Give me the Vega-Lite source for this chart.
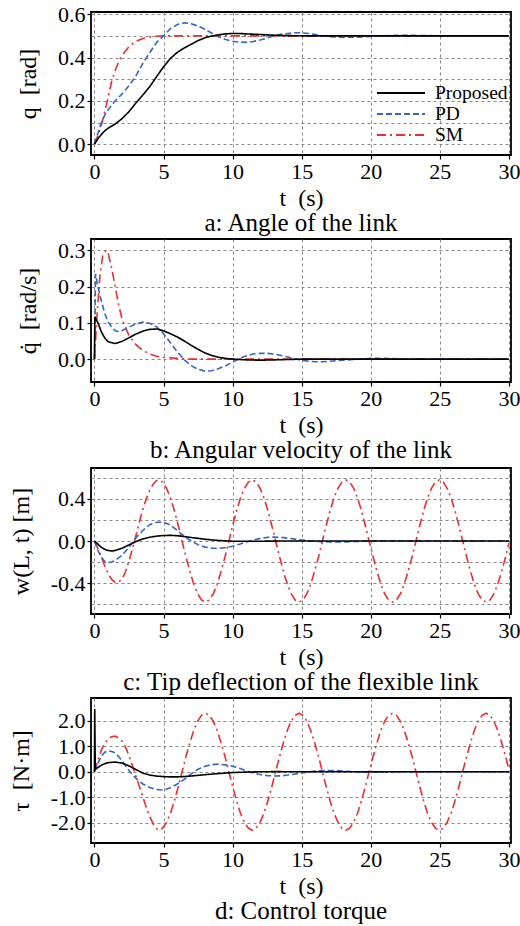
{
"$schema":"https://vega.github.io/schema/vega-lite/v6.json",
"padding":{"left":8,"top":2,"right":2,"bottom":2},
"spacing":1,
"datasets":{
"a":[
{"t":0,"s":"SM","v":0},{"t":0.25,"s":"SM","v":0.04},{"t":0.5,"s":"SM","v":0.09},{"t":0.75,"s":"SM","v":0.15},{"t":1,"s":"SM","v":0.22},{"t":1.25,"s":"SM","v":0.29},{"t":1.5,"s":"SM","v":0.34},{"t":1.75,"s":"SM","v":0.38},{"t":2,"s":"SM","v":0.41},{"t":2.5,"s":"SM","v":0.45},{"t":3,"s":"SM","v":0.475},{"t":3.5,"s":"SM","v":0.488},{"t":4,"s":"SM","v":0.495},{"t":4.5,"s":"SM","v":0.498},{"t":5,"s":"SM","v":0.5},{"t":10,"s":"SM","v":0.5},{"t":15,"s":"SM","v":0.5},{"t":20,"s":"SM","v":0.5},{"t":25,"s":"SM","v":0.5},{"t":30,"s":"SM","v":0.5},
{"t":0,"s":"PD","v":0},{"t":0.25,"s":"PD","v":0.05},{"t":0.5,"s":"PD","v":0.1},{"t":0.75,"s":"PD","v":0.135},{"t":1,"s":"PD","v":0.16},{"t":1.5,"s":"PD","v":0.2},{"t":2,"s":"PD","v":0.232},{"t":2.5,"s":"PD","v":0.27},{"t":3,"s":"PD","v":0.315},{"t":3.5,"s":"PD","v":0.373},{"t":4,"s":"PD","v":0.422},{"t":4.5,"s":"PD","v":0.47},{"t":5,"s":"PD","v":0.5},{"t":5.5,"s":"PD","v":0.533},{"t":6,"s":"PD","v":0.552},{"t":6.5,"s":"PD","v":0.56},{"t":7,"s":"PD","v":0.556},{"t":7.5,"s":"PD","v":0.545},{"t":8,"s":"PD","v":0.53},{"t":8.5,"s":"PD","v":0.512},{"t":9,"s":"PD","v":0.495},{"t":9.5,"s":"PD","v":0.483},{"t":10,"s":"PD","v":0.475},{"t":10.5,"s":"PD","v":0.471},{"t":11,"s":"PD","v":0.47},{"t":11.5,"s":"PD","v":0.474},{"t":12,"s":"PD","v":0.481},{"t":12.5,"s":"PD","v":0.49},{"t":13,"s":"PD","v":0.5},{"t":13.5,"s":"PD","v":0.507},{"t":14,"s":"PD","v":0.511},{"t":14.5,"s":"PD","v":0.514},{"t":15,"s":"PD","v":0.514},{"t":15.5,"s":"PD","v":0.511},{"t":16,"s":"PD","v":0.506},{"t":16.5,"s":"PD","v":0.5},{"t":17,"s":"PD","v":0.496},{"t":18,"s":"PD","v":0.493},{"t":19,"s":"PD","v":0.494},{"t":20,"s":"PD","v":0.497},{"t":21,"s":"PD","v":0.5},{"t":22,"s":"PD","v":0.502},{"t":23,"s":"PD","v":0.502},{"t":24,"s":"PD","v":0.501},{"t":25,"s":"PD","v":0.5},{"t":26,"s":"PD","v":0.499},{"t":27,"s":"PD","v":0.499},{"t":28,"s":"PD","v":0.5},{"t":30,"s":"PD","v":0.5},
{"t":0,"s":"Proposed","v":0},{"t":0.25,"s":"Proposed","v":0.025},{"t":0.5,"s":"Proposed","v":0.045},{"t":0.75,"s":"Proposed","v":0.062},{"t":1,"s":"Proposed","v":0.074},{"t":1.5,"s":"Proposed","v":0.093},{"t":2,"s":"Proposed","v":0.118},{"t":2.5,"s":"Proposed","v":0.15},{"t":3,"s":"Proposed","v":0.19},{"t":3.5,"s":"Proposed","v":0.227},{"t":4,"s":"Proposed","v":0.265},{"t":4.5,"s":"Proposed","v":0.312},{"t":5,"s":"Proposed","v":0.357},{"t":5.5,"s":"Proposed","v":0.396},{"t":6,"s":"Proposed","v":0.424},{"t":6.5,"s":"Proposed","v":0.444},{"t":7,"s":"Proposed","v":0.461},{"t":7.5,"s":"Proposed","v":0.478},{"t":8,"s":"Proposed","v":0.491},{"t":8.5,"s":"Proposed","v":0.499},{"t":9,"s":"Proposed","v":0.505},{"t":9.5,"s":"Proposed","v":0.509},{"t":10,"s":"Proposed","v":0.511},{"t":10.5,"s":"Proposed","v":0.511},{"t":11,"s":"Proposed","v":0.509},{"t":12,"s":"Proposed","v":0.506},{"t":13,"s":"Proposed","v":0.503},{"t":14,"s":"Proposed","v":0.501},{"t":15,"s":"Proposed","v":0.5},{"t":20,"s":"Proposed","v":0.5},{"t":25,"s":"Proposed","v":0.5},{"t":30,"s":"Proposed","v":0.5}
],
"b":[
{"t":0,"s":"SM","v":0},{"t":0.2,"s":"SM","v":0.13},{"t":0.4,"s":"SM","v":0.23},{"t":0.6,"s":"SM","v":0.285},{"t":0.85,"s":"SM","v":0.3},{"t":1,"s":"SM","v":0.29},{"t":1.25,"s":"SM","v":0.25},{"t":1.5,"s":"SM","v":0.2},{"t":1.75,"s":"SM","v":0.15},{"t":2,"s":"SM","v":0.11},{"t":2.5,"s":"SM","v":0.065},{"t":3,"s":"SM","v":0.04},{"t":3.5,"s":"SM","v":0.024},{"t":4,"s":"SM","v":0.014},{"t":4.5,"s":"SM","v":0.008},{"t":5,"s":"SM","v":0.005},{"t":6,"s":"SM","v":0.002},{"t":7,"s":"SM","v":0},{"t":30,"s":"SM","v":0},
{"t":0,"s":"PD","v":0},{"t":0.08,"s":"PD","v":0.235},{"t":0.25,"s":"PD","v":0.2},{"t":0.5,"s":"PD","v":0.16},{"t":0.75,"s":"PD","v":0.125},{"t":1,"s":"PD","v":0.102},{"t":1.25,"s":"PD","v":0.088},{"t":1.5,"s":"PD","v":0.078},{"t":1.75,"s":"PD","v":0.076},{"t":2,"s":"PD","v":0.079},{"t":2.5,"s":"PD","v":0.088},{"t":3,"s":"PD","v":0.097},{"t":3.5,"s":"PD","v":0.102},{"t":4,"s":"PD","v":0.099},{"t":4.5,"s":"PD","v":0.089},{"t":5,"s":"PD","v":0.07},{"t":5.5,"s":"PD","v":0.045},{"t":6,"s":"PD","v":0.02},{"t":6.5,"s":"PD","v":-0.002},{"t":7,"s":"PD","v":-0.018},{"t":7.5,"s":"PD","v":-0.028},{"t":8,"s":"PD","v":-0.033},{"t":8.5,"s":"PD","v":-0.032},{"t":9,"s":"PD","v":-0.026},{"t":9.5,"s":"PD","v":-0.018},{"t":10,"s":"PD","v":-0.008},{"t":10.5,"s":"PD","v":0.002},{"t":11,"s":"PD","v":0.009},{"t":11.5,"s":"PD","v":0.014},{"t":12,"s":"PD","v":0.016},{"t":12.5,"s":"PD","v":0.016},{"t":13,"s":"PD","v":0.014},{"t":13.5,"s":"PD","v":0.01},{"t":14,"s":"PD","v":0.006},{"t":14.5,"s":"PD","v":0.001},{"t":15,"s":"PD","v":-0.003},{"t":15.5,"s":"PD","v":-0.006},{"t":16,"s":"PD","v":-0.007},{"t":16.5,"s":"PD","v":-0.007},{"t":17,"s":"PD","v":-0.006},{"t":18,"s":"PD","v":-0.003},{"t":19,"s":"PD","v":0},{"t":20,"s":"PD","v":0.002},{"t":21,"s":"PD","v":0.002},{"t":22,"s":"PD","v":0.001},{"t":23,"s":"PD","v":0},{"t":30,"s":"PD","v":0},
{"t":0,"s":"Proposed","v":0},{"t":0.03,"s":"Proposed","v":0.117},{"t":0.25,"s":"Proposed","v":0.1},{"t":0.5,"s":"Proposed","v":0.075},{"t":0.75,"s":"Proposed","v":0.058},{"t":1,"s":"Proposed","v":0.048},{"t":1.5,"s":"Proposed","v":0.043},{"t":2,"s":"Proposed","v":0.049},{"t":2.5,"s":"Proposed","v":0.059},{"t":3,"s":"Proposed","v":0.069},{"t":3.5,"s":"Proposed","v":0.077},{"t":4,"s":"Proposed","v":0.082},{"t":4.5,"s":"Proposed","v":0.083},{"t":5,"s":"Proposed","v":0.078},{"t":5.5,"s":"Proposed","v":0.07},{"t":6,"s":"Proposed","v":0.061},{"t":6.5,"s":"Proposed","v":0.05},{"t":7,"s":"Proposed","v":0.038},{"t":7.5,"s":"Proposed","v":0.027},{"t":8,"s":"Proposed","v":0.017},{"t":8.5,"s":"Proposed","v":0.01},{"t":9,"s":"Proposed","v":0.005},{"t":9.5,"s":"Proposed","v":0.002},{"t":10,"s":"Proposed","v":0},{"t":11,"s":"Proposed","v":-0.002},{"t":12,"s":"Proposed","v":-0.003},{"t":13,"s":"Proposed","v":-0.002},{"t":14,"s":"Proposed","v":-0.001},{"t":15,"s":"Proposed","v":0},{"t":30,"s":"Proposed","v":0}
],
"c":[
{"t":0,"s":"SM","v":0},{"t":0.25,"s":"SM","v":-0.07},{"t":0.5,"s":"SM","v":-0.15},{"t":0.75,"s":"SM","v":-0.24},{"t":1,"s":"SM","v":-0.31},{"t":1.25,"s":"SM","v":-0.365},{"t":1.5,"s":"SM","v":-0.393},{"t":1.75,"s":"SM","v":-0.39},{"t":2,"s":"SM","v":-0.36},{"t":2.25,"s":"SM","v":-0.29},{"t":2.5,"s":"SM","v":-0.19},{"t":2.75,"s":"SM","v":-0.075},{"t":3,"s":"SM","v":0.05},{"t":3.25,"s":"SM","v":0.18},{"t":3.5,"s":"SM","v":0.3},{"t":3.75,"s":"SM","v":0.4},{"t":4,"s":"SM","v":0.48},{"t":4.25,"s":"SM","v":0.54},{"t":4.5,"s":"SM","v":0.575},
{"t":4.65,"s":"SM","v":0.58},{"t":4.93,"s":"SM","v":0.56},{"t":5.21,"s":"SM","v":0.502},{"t":5.5,"s":"SM","v":0.41},{"t":5.78,"s":"SM","v":0.29},{"t":6.06,"s":"SM","v":0.15},{"t":6.34,"s":"SM","v":0},{"t":6.62,"s":"SM","v":-0.15},{"t":6.91,"s":"SM","v":-0.29},{"t":7.19,"s":"SM","v":-0.41},{"t":7.47,"s":"SM","v":-0.502},{"t":7.75,"s":"SM","v":-0.56},{"t":8.04,"s":"SM","v":-0.58},{"t":8.32,"s":"SM","v":-0.56},{"t":8.6,"s":"SM","v":-0.502},{"t":8.88,"s":"SM","v":-0.41},{"t":9.16,"s":"SM","v":-0.29},{"t":9.45,"s":"SM","v":-0.15},{"t":9.73,"s":"SM","v":0},{"t":10.01,"s":"SM","v":0.15},{"t":10.29,"s":"SM","v":0.29},{"t":10.57,"s":"SM","v":0.41},{"t":10.86,"s":"SM","v":0.502},{"t":11.14,"s":"SM","v":0.56},{"t":11.42,"s":"SM","v":0.58},{"t":11.7,"s":"SM","v":0.56},{"t":11.98,"s":"SM","v":0.502},{"t":12.27,"s":"SM","v":0.41},{"t":12.55,"s":"SM","v":0.29},{"t":12.83,"s":"SM","v":0.15},{"t":13.11,"s":"SM","v":0},{"t":13.4,"s":"SM","v":-0.15},{"t":13.68,"s":"SM","v":-0.29},{"t":13.96,"s":"SM","v":-0.41},{"t":14.24,"s":"SM","v":-0.502},{"t":14.52,"s":"SM","v":-0.56},{"t":14.81,"s":"SM","v":-0.58},{"t":15.09,"s":"SM","v":-0.56},{"t":15.37,"s":"SM","v":-0.502},{"t":15.65,"s":"SM","v":-0.41},{"t":15.93,"s":"SM","v":-0.29},{"t":16.22,"s":"SM","v":-0.15},{"t":16.5,"s":"SM","v":0},{"t":16.78,"s":"SM","v":0.15},{"t":17.06,"s":"SM","v":0.29},{"t":17.34,"s":"SM","v":0.41},{"t":17.63,"s":"SM","v":0.502},{"t":17.91,"s":"SM","v":0.56},{"t":18.19,"s":"SM","v":0.58},{"t":18.47,"s":"SM","v":0.56},{"t":18.76,"s":"SM","v":0.502},{"t":19.04,"s":"SM","v":0.41},{"t":19.32,"s":"SM","v":0.29},{"t":19.6,"s":"SM","v":0.15},{"t":19.88,"s":"SM","v":0},{"t":20.17,"s":"SM","v":-0.15},{"t":20.45,"s":"SM","v":-0.29},{"t":20.73,"s":"SM","v":-0.41},{"t":21.01,"s":"SM","v":-0.502},{"t":21.29,"s":"SM","v":-0.56},{"t":21.58,"s":"SM","v":-0.58},{"t":21.86,"s":"SM","v":-0.56},{"t":22.14,"s":"SM","v":-0.502},{"t":22.42,"s":"SM","v":-0.41},{"t":22.7,"s":"SM","v":-0.29},{"t":22.99,"s":"SM","v":-0.15},{"t":23.27,"s":"SM","v":0},{"t":23.55,"s":"SM","v":0.15},{"t":23.83,"s":"SM","v":0.29},{"t":24.11,"s":"SM","v":0.41},{"t":24.4,"s":"SM","v":0.502},{"t":24.68,"s":"SM","v":0.56},{"t":24.96,"s":"SM","v":0.58},{"t":25.24,"s":"SM","v":0.56},{"t":25.52,"s":"SM","v":0.502},{"t":25.81,"s":"SM","v":0.41},{"t":26.09,"s":"SM","v":0.29},{"t":26.37,"s":"SM","v":0.15},{"t":26.65,"s":"SM","v":0},{"t":26.94,"s":"SM","v":-0.15},{"t":27.22,"s":"SM","v":-0.29},{"t":27.5,"s":"SM","v":-0.41},{"t":27.78,"s":"SM","v":-0.502},{"t":28.06,"s":"SM","v":-0.56},{"t":28.35,"s":"SM","v":-0.58},{"t":28.63,"s":"SM","v":-0.56},{"t":28.91,"s":"SM","v":-0.502},{"t":29.19,"s":"SM","v":-0.41},{"t":29.47,"s":"SM","v":-0.29},{"t":29.76,"s":"SM","v":-0.15},{"t":30,"s":"SM","v":-0.02},
{"t":0,"s":"PD","v":0},{"t":0.25,"s":"PD","v":-0.09},{"t":0.5,"s":"PD","v":-0.155},{"t":0.75,"s":"PD","v":-0.195},{"t":1,"s":"PD","v":-0.205},{"t":1.25,"s":"PD","v":-0.2},{"t":1.5,"s":"PD","v":-0.185},{"t":2,"s":"PD","v":-0.135},{"t":2.5,"s":"PD","v":-0.06},{"t":3,"s":"PD","v":0.03},{"t":3.5,"s":"PD","v":0.1},{"t":4,"s":"PD","v":0.155},{"t":4.5,"s":"PD","v":0.178},{"t":5,"s":"PD","v":0.178},{"t":5.5,"s":"PD","v":0.152},{"t":6,"s":"PD","v":0.1},{"t":6.5,"s":"PD","v":0.045},{"t":7,"s":"PD","v":0},{"t":7.5,"s":"PD","v":-0.035},{"t":8,"s":"PD","v":-0.058},{"t":8.5,"s":"PD","v":-0.068},{"t":9,"s":"PD","v":-0.07},{"t":9.5,"s":"PD","v":-0.063},{"t":10,"s":"PD","v":-0.05},{"t":10.5,"s":"PD","v":-0.03},{"t":11,"s":"PD","v":-0.01},{"t":11.5,"s":"PD","v":0.01},{"t":12,"s":"PD","v":0.025},{"t":12.5,"s":"PD","v":0.034},{"t":13,"s":"PD","v":0.038},{"t":13.5,"s":"PD","v":0.035},{"t":14,"s":"PD","v":0.027},{"t":14.5,"s":"PD","v":0.018},{"t":15,"s":"PD","v":0.01},{"t":15.5,"s":"PD","v":0.003},{"t":16,"s":"PD","v":-0.003},{"t":16.5,"s":"PD","v":-0.007},{"t":17,"s":"PD","v":-0.009},{"t":17.5,"s":"PD","v":-0.01},{"t":18,"s":"PD","v":-0.009},{"t":19,"s":"PD","v":-0.004},{"t":20,"s":"PD","v":0},{"t":21,"s":"PD","v":0.003},{"t":22,"s":"PD","v":0.003},{"t":23,"s":"PD","v":0.001},{"t":24,"s":"PD","v":0},{"t":30,"s":"PD","v":0},
{"t":0,"s":"Proposed","v":0},{"t":0.25,"s":"Proposed","v":-0.03},{"t":0.5,"s":"Proposed","v":-0.06},{"t":0.75,"s":"Proposed","v":-0.08},{"t":1,"s":"Proposed","v":-0.09},{"t":1.25,"s":"Proposed","v":-0.094},{"t":1.5,"s":"Proposed","v":-0.09},{"t":2,"s":"Proposed","v":-0.068},{"t":2.5,"s":"Proposed","v":-0.037},{"t":3,"s":"Proposed","v":-0.005},{"t":3.5,"s":"Proposed","v":0.02},{"t":4,"s":"Proposed","v":0.036},{"t":4.5,"s":"Proposed","v":0.046},{"t":5,"s":"Proposed","v":0.052},{"t":5.5,"s":"Proposed","v":0.054},{"t":6,"s":"Proposed","v":0.05},{"t":6.5,"s":"Proposed","v":0.042},{"t":7,"s":"Proposed","v":0.033},{"t":7.5,"s":"Proposed","v":0.025},{"t":8,"s":"Proposed","v":0.017},{"t":8.5,"s":"Proposed","v":0.01},{"t":9,"s":"Proposed","v":0.005},{"t":9.5,"s":"Proposed","v":0.001},{"t":10,"s":"Proposed","v":-0.002},{"t":11,"s":"Proposed","v":-0.003},{"t":12,"s":"Proposed","v":-0.002},{"t":13,"s":"Proposed","v":-0.001},{"t":14,"s":"Proposed","v":0},{"t":30,"s":"Proposed","v":0}
],
"d":[
{"t":0,"s":"SM","v":0},{"t":0.25,"s":"SM","v":0.45},{"t":0.5,"s":"SM","v":0.85},{"t":0.75,"s":"SM","v":1.12},{"t":1,"s":"SM","v":1.3},{"t":1.25,"s":"SM","v":1.38},{"t":1.5,"s":"SM","v":1.4},{"t":1.75,"s":"SM","v":1.33},{"t":2,"s":"SM","v":1.2},{"t":2.25,"s":"SM","v":0.97},{"t":2.5,"s":"SM","v":0.63},{"t":2.75,"s":"SM","v":0.24},{"t":3,"s":"SM","v":-0.17},{"t":3.25,"s":"SM","v":-0.57},{"t":3.5,"s":"SM","v":-0.98},{"t":3.75,"s":"SM","v":-1.4},{"t":4,"s":"SM","v":-1.76},{"t":4.25,"s":"SM","v":-2.05},{"t":4.5,"s":"SM","v":-2.24},
{"t":4.65,"s":"SM","v":-2.3},{"t":4.93,"s":"SM","v":-2.22},{"t":5.21,"s":"SM","v":-1.99},{"t":5.5,"s":"SM","v":-1.63},{"t":5.78,"s":"SM","v":-1.15},{"t":6.06,"s":"SM","v":-0.6},{"t":6.34,"s":"SM","v":0},{"t":6.62,"s":"SM","v":0.6},{"t":6.91,"s":"SM","v":1.15},{"t":7.19,"s":"SM","v":1.63},{"t":7.47,"s":"SM","v":1.99},{"t":7.75,"s":"SM","v":2.22},{"t":8.04,"s":"SM","v":2.3},{"t":8.32,"s":"SM","v":2.22},{"t":8.6,"s":"SM","v":1.99},{"t":8.88,"s":"SM","v":1.63},{"t":9.16,"s":"SM","v":1.15},{"t":9.45,"s":"SM","v":0.6},{"t":9.73,"s":"SM","v":0},{"t":10.01,"s":"SM","v":-0.6},{"t":10.29,"s":"SM","v":-1.15},{"t":10.57,"s":"SM","v":-1.63},{"t":10.86,"s":"SM","v":-1.99},{"t":11.14,"s":"SM","v":-2.22},{"t":11.42,"s":"SM","v":-2.3},{"t":11.7,"s":"SM","v":-2.22},{"t":11.98,"s":"SM","v":-1.99},{"t":12.27,"s":"SM","v":-1.63},{"t":12.55,"s":"SM","v":-1.15},{"t":12.83,"s":"SM","v":-0.6},{"t":13.11,"s":"SM","v":0},{"t":13.4,"s":"SM","v":0.6},{"t":13.68,"s":"SM","v":1.15},{"t":13.96,"s":"SM","v":1.63},{"t":14.24,"s":"SM","v":1.99},{"t":14.52,"s":"SM","v":2.22},{"t":14.81,"s":"SM","v":2.3},{"t":15.09,"s":"SM","v":2.22},{"t":15.37,"s":"SM","v":1.99},{"t":15.65,"s":"SM","v":1.63},{"t":15.93,"s":"SM","v":1.15},{"t":16.22,"s":"SM","v":0.6},{"t":16.5,"s":"SM","v":0},{"t":16.78,"s":"SM","v":-0.6},{"t":17.06,"s":"SM","v":-1.15},{"t":17.34,"s":"SM","v":-1.63},{"t":17.63,"s":"SM","v":-1.99},{"t":17.91,"s":"SM","v":-2.22},{"t":18.19,"s":"SM","v":-2.3},{"t":18.47,"s":"SM","v":-2.22},{"t":18.76,"s":"SM","v":-1.99},{"t":19.04,"s":"SM","v":-1.63},{"t":19.32,"s":"SM","v":-1.15},{"t":19.6,"s":"SM","v":-0.6},{"t":19.88,"s":"SM","v":0},{"t":20.17,"s":"SM","v":0.6},{"t":20.45,"s":"SM","v":1.15},{"t":20.73,"s":"SM","v":1.63},{"t":21.01,"s":"SM","v":1.99},{"t":21.29,"s":"SM","v":2.22},{"t":21.58,"s":"SM","v":2.3},{"t":21.86,"s":"SM","v":2.22},{"t":22.14,"s":"SM","v":1.99},{"t":22.42,"s":"SM","v":1.63},{"t":22.7,"s":"SM","v":1.15},{"t":22.99,"s":"SM","v":0.6},{"t":23.27,"s":"SM","v":0},{"t":23.55,"s":"SM","v":-0.6},{"t":23.83,"s":"SM","v":-1.15},{"t":24.11,"s":"SM","v":-1.63},{"t":24.4,"s":"SM","v":-1.99},{"t":24.68,"s":"SM","v":-2.22},{"t":24.96,"s":"SM","v":-2.3},{"t":25.24,"s":"SM","v":-2.22},{"t":25.52,"s":"SM","v":-1.99},{"t":25.81,"s":"SM","v":-1.63},{"t":26.09,"s":"SM","v":-1.15},{"t":26.37,"s":"SM","v":-0.6},{"t":26.65,"s":"SM","v":0},{"t":26.94,"s":"SM","v":0.6},{"t":27.22,"s":"SM","v":1.15},{"t":27.5,"s":"SM","v":1.63},{"t":27.78,"s":"SM","v":1.99},{"t":28.06,"s":"SM","v":2.22},{"t":28.35,"s":"SM","v":2.3},{"t":28.63,"s":"SM","v":2.22},{"t":28.91,"s":"SM","v":1.99},{"t":29.19,"s":"SM","v":1.63},{"t":29.47,"s":"SM","v":1.15},{"t":29.76,"s":"SM","v":0.6},{"t":30,"s":"SM","v":0.08},
{"t":0,"s":"PD","v":0},{"t":0.1,"s":"PD","v":0.15},{"t":0.25,"s":"PD","v":0.33},{"t":0.5,"s":"PD","v":0.62},{"t":0.75,"s":"PD","v":0.77},{"t":1,"s":"PD","v":0.82},{"t":1.25,"s":"PD","v":0.8},{"t":1.5,"s":"PD","v":0.74},{"t":1.75,"s":"PD","v":0.6},{"t":2,"s":"PD","v":0.43},{"t":2.25,"s":"PD","v":0.24},{"t":2.5,"s":"PD","v":0.05},{"t":3,"s":"PD","v":-0.26},{"t":3.5,"s":"PD","v":-0.48},{"t":4,"s":"PD","v":-0.62},{"t":4.5,"s":"PD","v":-0.7},{"t":5,"s":"PD","v":-0.72},{"t":5.5,"s":"PD","v":-0.63},{"t":6,"s":"PD","v":-0.48},{"t":6.5,"s":"PD","v":-0.3},{"t":7,"s":"PD","v":-0.08},{"t":7.5,"s":"PD","v":0.1},{"t":8,"s":"PD","v":0.22},{"t":8.5,"s":"PD","v":0.28},{"t":9,"s":"PD","v":0.3},{"t":9.5,"s":"PD","v":0.27},{"t":10,"s":"PD","v":0.22},{"t":10.5,"s":"PD","v":0.14},{"t":11,"s":"PD","v":0.04},{"t":11.5,"s":"PD","v":-0.05},{"t":12,"s":"PD","v":-0.11},{"t":12.5,"s":"PD","v":-0.15},{"t":13,"s":"PD","v":-0.165},{"t":13.5,"s":"PD","v":-0.16},{"t":14,"s":"PD","v":-0.13},{"t":14.5,"s":"PD","v":-0.09},{"t":15,"s":"PD","v":-0.05},{"t":15.5,"s":"PD","v":-0.01},{"t":16,"s":"PD","v":0.025},{"t":16.5,"s":"PD","v":0.045},{"t":17,"s":"PD","v":0.05},{"t":17.5,"s":"PD","v":0.045},{"t":18,"s":"PD","v":0.03},{"t":18.5,"s":"PD","v":0.01},{"t":19,"s":"PD","v":-0.01},{"t":20,"s":"PD","v":-0.02},{"t":21,"s":"PD","v":-0.01},{"t":22,"s":"PD","v":0},{"t":30,"s":"PD","v":0},
{"t":0,"s":"Proposed","v":0},{"t":0.02,"s":"Proposed","v":2.47},{"t":0.06,"s":"Proposed","v":0.1},{"t":0.25,"s":"Proposed","v":0.17},{"t":0.5,"s":"Proposed","v":0.26},{"t":0.75,"s":"Proposed","v":0.32},{"t":1,"s":"Proposed","v":0.36},{"t":1.5,"s":"Proposed","v":0.38},{"t":2,"s":"Proposed","v":0.34},{"t":2.5,"s":"Proposed","v":0.23},{"t":3,"s":"Proposed","v":0.09},{"t":3.5,"s":"Proposed","v":-0.05},{"t":4,"s":"Proposed","v":-0.13},{"t":4.5,"s":"Proposed","v":-0.17},{"t":5,"s":"Proposed","v":-0.19},{"t":5.5,"s":"Proposed","v":-0.2},{"t":6,"s":"Proposed","v":-0.2},{"t":6.5,"s":"Proposed","v":-0.19},{"t":7,"s":"Proposed","v":-0.165},{"t":7.5,"s":"Proposed","v":-0.14},{"t":8,"s":"Proposed","v":-0.115},{"t":8.5,"s":"Proposed","v":-0.09},{"t":9,"s":"Proposed","v":-0.07},{"t":9.5,"s":"Proposed","v":-0.05},{"t":10,"s":"Proposed","v":-0.03},{"t":11,"s":"Proposed","v":-0.012},{"t":12,"s":"Proposed","v":0},{"t":13,"s":"Proposed","v":0.005},{"t":14,"s":"Proposed","v":0.003},{"t":15,"s":"Proposed","v":0},{"t":30,"s":"Proposed","v":0}
]
},
"resolve":{"scale":{"x":"independent","y":"independent","color":"independent","strokeDash":"independent"},"legend":{"color":"independent","strokeDash":"independent"}},
"vconcat":[
{"width":420,"height":143,"data":{"name":"a"},
 "title":{"text":"a: Angle of the link"},
 "mark":{"type":"line","strokeWidth":1.6,"clip":true},
 "encoding":{
  "x":{"field":"t","type":"quantitative","scale":{"domain":[-0.25,30.15],"nice":false,"zero":false},"axis":{"values":[0,5,10,15,20,25,30],"format":"d","title":"t\u00a0 (s)"}},
  "y":{"field":"v","type":"quantitative","scale":{"domain":[-0.05,0.61],"nice":false,"zero":false},"axis":{"values":[0,0.1,0.2,0.3,0.4,0.5,0.6],"labelExpr":"abs(round(datum.value*10)%2)==0 ? format(datum.value,'.1f') : ''","tickOpacity":{"condition":{"test":"abs(round(datum.value*10)%2)==0","value":1},"value":0},"title":"q\u00a0 [rad]"}},
  "color":{"field":"s","type":"nominal","scale":{"domain":["Proposed","PD","SM"],"range":["#000000","#3567c2","#ee2e2e"]},"legend":{"orient":"none","legendX":299,"legendY":70,"title":null,"symbolType":"M-2.4,0H2.4","symbolSize":400,"symbolStrokeWidth":1.8,"labelFont":"Liberation Serif","labelFontSize":19.5,"labelColor":"#000","labelOffset":23,"rowPadding":0,"padding":0}},
  "strokeDash":{"field":"s","type":"nominal","scale":{"domain":["Proposed","PD","SM"],"range":[[1,0],[6,3],[9,4,2,4]]},"legend":{"orient":"none","legendX":299,"legendY":70,"title":null,"symbolType":"M-2.4,0H2.4","symbolSize":400,"symbolStrokeWidth":1.8,"labelFont":"Liberation Serif","labelFontSize":19.5,"labelColor":"#000","labelOffset":23,"rowPadding":0,"padding":0}}
 }},
{"width":420,"height":143,"data":{"name":"b"},
 "title":{"text":"b: Angular velocity of the link"},
 "mark":{"type":"line","strokeWidth":1.6,"clip":true},
 "encoding":{
  "x":{"field":"t","type":"quantitative","scale":{"domain":[-0.25,30.15],"nice":false,"zero":false},"axis":{"values":[0,5,10,15,20,25,30],"format":"d","title":"t\u00a0 (s)"}},
  "y":{"field":"v","type":"quantitative","scale":{"domain":[-0.063,0.331],"nice":false,"zero":false},"axis":{"values":[0,0.1,0.2,0.3],"format":".1f","title":"q̇\u00a0 [rad/s]"}},
  "color":{"field":"s","type":"nominal","scale":{"domain":["Proposed","PD","SM"],"range":["#000000","#3567c2","#ee2e2e"]},"legend":null},
  "strokeDash":{"field":"s","type":"nominal","scale":{"domain":["Proposed","PD","SM"],"range":[[1,0],[6,3],[9,4,2,4]]},"legend":null}
 }},
{"width":420,"height":146,"data":{"name":"c"},
 "title":{"text":"c: Tip deflection of the flexible link"},
 "mark":{"type":"line","strokeWidth":1.6,"clip":true},
 "encoding":{
  "x":{"field":"t","type":"quantitative","scale":{"domain":[-0.25,30.15],"nice":false,"zero":false},"axis":{"values":[0,5,10,15,20,25,30],"format":"d","title":"t\u00a0 (s)"}},
  "y":{"field":"v","type":"quantitative","scale":{"domain":[-0.693,0.693],"nice":false,"zero":false},"axis":{"values":[-0.6,-0.4,-0.2,0,0.2,0.4,0.6],"labelExpr":"abs(round(datum.value*10)%4)==0 ? replace(format(datum.value,'.1f'),'\u2212','-') : ''","tickOpacity":{"condition":{"test":"abs(round(datum.value*10)%4)==0","value":1},"value":0},"title":"w(L, t) [m]"}},
  "color":{"field":"s","type":"nominal","scale":{"domain":["Proposed","PD","SM"],"range":["#000000","#3567c2","#ee2e2e"]},"legend":null},
  "strokeDash":{"field":"s","type":"nominal","scale":{"domain":["Proposed","PD","SM"],"range":[[1,0],[6,3],[9,4,2,4]]},"legend":null}
 }},
{"width":420,"height":145,"data":{"name":"d"},
 "title":{"text":"d: Control torque"},
 "mark":{"type":"line","strokeWidth":1.6,"clip":true},
 "encoding":{
  "x":{"field":"t","type":"quantitative","scale":{"domain":[-0.25,30.15],"nice":false,"zero":false},"axis":{"values":[0,5,10,15,20,25,30],"format":"d","title":"t\u00a0 (s)"}},
  "y":{"field":"v","type":"quantitative","scale":{"domain":[-2.8,2.9],"nice":false,"zero":false},"axis":{"values":[-2,-1,0,1,2],"labelExpr":"replace(format(datum.value,'.1f'),'\u2212','-')","title":"τ\u00a0 [N·m]"}},
  "color":{"field":"s","type":"nominal","scale":{"domain":["Proposed","PD","SM"],"range":["#000000","#3567c2","#ee2e2e"]},"legend":null},
  "strokeDash":{"field":"s","type":"nominal","scale":{"domain":["Proposed","PD","SM"],"range":[[1,0],[6,3],[9,4,2,4]]},"legend":null}
 }}
],
"config":{
 "font":"Liberation Serif",
 "background":"#ffffff",
 "view":{"stroke":"#000000","strokeWidth":1.8},
 "axis":{"labelFont":"Liberation Serif","titleFont":"Liberation Serif","labelFontSize":22,"titleFontSize":24,"titleFontWeight":"normal","labelColor":"#000","titleColor":"#000","domain":false,"grid":true,"gridColor":"#888888","gridDash":[3,3],"gridWidth":1,"tickColor":"#000","tickSize":4,"tickWidth":1.2,"labelPadding":2,"labelFlush":false,"labelOverlap":false},
 "axisX":{"titlePadding":4},
 "axisY":{"titlePadding":17},
 "title":{"font":"Liberation Serif","fontSize":25,"fontWeight":"normal","color":"#000","orient":"bottom","frame":"group","anchor":"middle","offset":1}
}
}
